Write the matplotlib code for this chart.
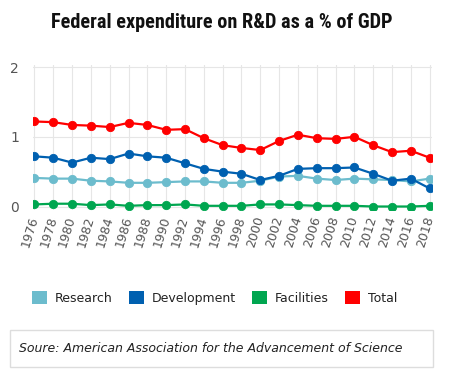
import matplotlib
matplotlib.use("Agg")
import matplotlib.pyplot as plt
from matplotlib.patches import Patch, Rectangle
from matplotlib import font_manager

years = list(range(1976, 2019, 2))
research = [0.41, 0.40, 0.40, 0.37, 0.36, 0.34, 0.34, 0.35, 0.36, 0.36, 0.34,
            0.34, 0.37, 0.43, 0.44, 0.40, 0.38, 0.40, 0.39, 0.38, 0.36, 0.40]
development = [0.72, 0.70, 0.63, 0.70, 0.68, 0.76, 0.72, 0.70, 0.62, 0.54, 0.50,
               0.47, 0.38, 0.44, 0.54, 0.55, 0.55, 0.56, 0.47, 0.37, 0.40, 0.26]
facilities = [0.03, 0.04, 0.04, 0.02, 0.03, 0.01, 0.02, 0.02, 0.03, 0.01, 0.01,
              0.01, 0.03, 0.03, 0.02, 0.01, 0.01, 0.01, 0.00, 0.00, 0.00, 0.01]
total = [1.22, 1.21, 1.17, 1.16, 1.14, 1.20, 1.17, 1.10, 1.11, 0.98, 0.88,
         0.84, 0.81, 0.94, 1.03, 0.98, 0.97, 1.00, 0.88, 0.78, 0.80, 0.70]

series = [("Research", research, "#6cbccd"),
          ("Development", development, "#0060b0"),
          ("Facilities", facilities, "#00a650"),
          ("Total", total, "#ff0000")]

names = sorted({f.name for f in font_manager.fontManager.ttflist})

# pick the narrowest bold family we have for the title
title_font = "DejaVu Sans"
for cand in ["Roboto Condensed", "Liberation Sans Narrow", "DejaVu Sans Condensed", "Roboto"]:
    if cand in names:
        title_font = cand
        break

fig = plt.figure(figsize=(4.49, 3.80), dpi=100)
ax = fig.add_axes([33 / 449, 1 - 210 / 380, 399 / 449, 145 / 380])

for name, vals, col in series:
    ax.plot(years, vals, color=col, lw=1.6, marker="o", ms=6,
            markeredgecolor=col, markeredgewidth=0.6, zorder=3)

ax.set_xlim(1975.85, 2018.25)
ax.set_ylim(-0.05, 2.03)
ax.set_yticks([0, 1, 2])
ax.set_xticks(years)
ax.set_xticklabels([str(y) for y in years], rotation=73, ha="right",
                   va="center", rotation_mode="anchor")
ax.tick_params(axis="x", length=0, colors="#555555", labelsize=9, pad=5)
ax.tick_params(axis="y", length=0, colors="#555555", labelsize=10, pad=10)
ax.grid(True, color="#e6e6e6", lw=0.8)
ax.set_axisbelow(True)
for s in ax.spines.values():
    s.set_visible(False)

fig.text(0.493, 0.942, "Federal expenditure on R&D as a % of GDP",
         ha="center", va="center", fontsize=14.6, fontweight="bold",
         family=title_font, color="#111111")

handles = [Patch(facecolor=c, edgecolor="none", label=n) for n, _, c in series]
leg = fig.legend(handles=handles, loc="center", bbox_to_anchor=(0.478, 0.215),
                 ncol=4, frameon=False, fontsize=9, handlelength=1.2,
                 handleheight=1.2, handletextpad=0.64, columnspacing=1.28)
for t in leg.get_texts():
    t.set_color("#222222")

fig.add_artist(Rectangle((10 / 449, 1 - 367 / 380), 423 / 449, 37 / 380,
                         transform=fig.transFigure, fill=False,
                         edgecolor="#dddddd", lw=1))
fig.text(19 / 449, 1 - 349 / 380,
         "Soure: American Association for the Advancement of Science",
         ha="left", va="center", fontsize=9, style="italic", color="#222222")

fig.savefig("out.png", dpi=100)
